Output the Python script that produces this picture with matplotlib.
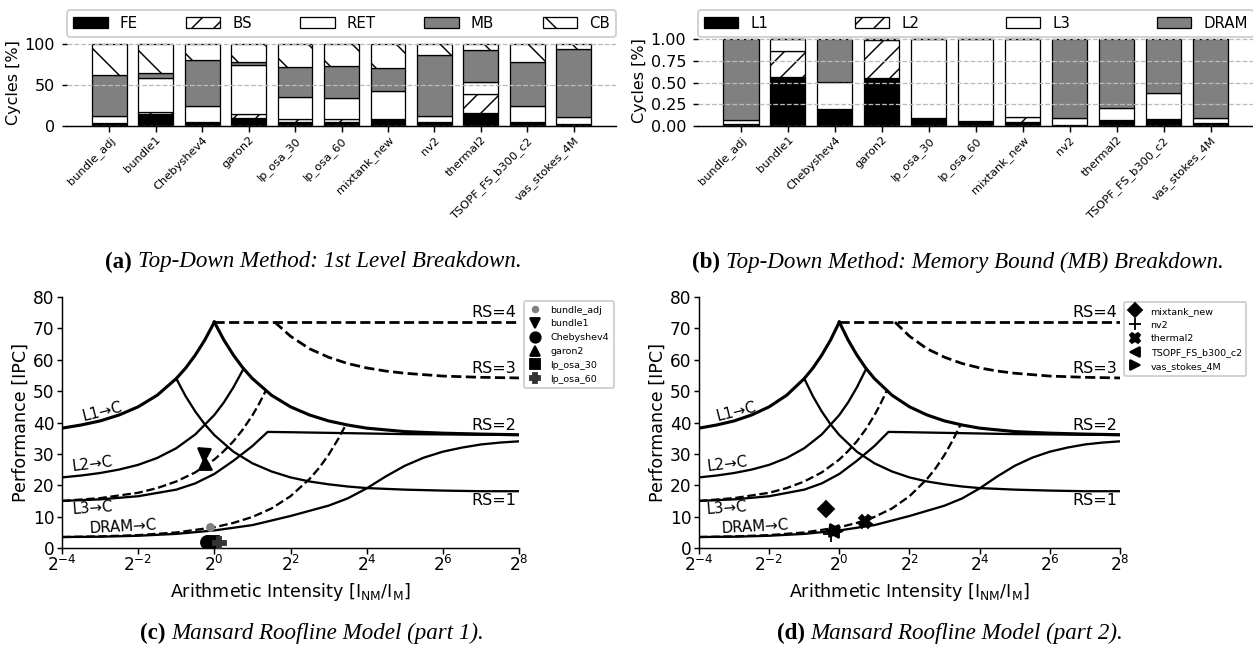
import numpy as np
import matplotlib
matplotlib.use('Agg')
import matplotlib.pyplot as plt
from matplotlib.ticker import NullLocator

W, H, DPI = 1253, 649, 132


def pt(v):
    """pixels -> points"""
    return v * 72.0 / DPI


def rect(l, t, r, b):
    return [l / W, 1 - b / H, (r - l) / W, (b - t) / H]


# ---------------- data ----------------
benchmarks = ['bundle_adj', 'bundle1', 'Chebyshev4', 'garon2', 'lp_osa_30', 'lp_osa_60',
              'mixtank_new', 'nv2', 'thermal2', 'TSOPF_FS_b300_c2', 'vas_stokes_4M']

# (a) Top-down 1st level breakdown [%]
fe  = [3.0, 14.0, 4.1, 9.8, 4.1, 4.0, 7.8, 4.1, 16.0, 4.1, 1.5]
bs  = [0.5, 2.4, 0.3, 4.5, 4.1, 3.8, 0.3, 0.3, 22.4, 0.3, 0.3]
ret = [8.8, 41.6, 19.6, 60.0, 27.3, 26.5, 34.4, 7.9, 14.6, 20.1, 9.0]
mb  = [49.7, 6.0, 56.4, 3.3, 36.0, 38.7, 28.5, 74.2, 39.6, 53.9, 82.7]
cb  = [38.0, 36.0, 19.6, 22.4, 28.5, 27.0, 29.0, 13.5, 7.4, 21.6, 6.5]
top_labels = ['FE', 'BS', 'RET', 'MB', 'CB']

# (b) Memory bound breakdown [fraction]
l1   = [0.020, 0.567, 0.190, 0.548, 0.085, 0.054, 0.045, 0.005, 0.066, 0.078, 0.035]
l2   = [0.000, 0.298, 0.000, 0.447, 0.000, 0.000, 0.059, 0.000, 0.000, 0.000, 0.000]
l3   = [0.046, 0.135, 0.320, 0.005, 0.913, 0.944, 0.894, 0.080, 0.144, 0.302, 0.050]
dram = [0.934, 0.000, 0.490, 0.000, 0.002, 0.002, 0.002, 0.915, 0.790, 0.620, 0.915]
mem_labels = ['L1', 'L2', 'L3', 'DRAM']

# (c)/(d) Mansard roofline curves: x given as log2(AI), y in IPC
l1_exp = [-4, -3.5, -3, -2.5, -2, -1.5, -1, -0.75, -0.5, -0.25, 0]
l1_ipc = [38.2, 39.2, 40.5, 42.4, 45.0, 48.7, 54.0, 57.4, 61.5, 66.3, 72.0]

rs2_exp = [0, 0.25, 0.5, 0.75, 1, 1.5, 2, 2.5, 3, 3.5, 4, 5, 6, 7, 8]
rs2_ipc = [72.0, 66.3, 61.5, 57.4, 54.0, 48.7, 45.0, 42.4, 40.5, 39.2, 38.2, 37.1, 36.6, 36.3, 36.1]

rs1_exp = [-1, -0.75, -0.5, -0.25, 0, 0.5, 1, 1.5, 2, 2.5, 3, 3.5, 4, 5, 6, 7, 8]
rs1_ipc = [54.0, 48.3, 43.5, 39.4, 36.0, 30.7, 27.0, 24.4, 22.5, 21.2, 20.3, 19.6, 19.1, 18.6, 18.3, 18.1, 18.1]

l2_exp = [-4, -3.5, -3, -2.5, -2, -1.5, -1, -0.5, 0, 0.25, 0.5, 0.77]
l2_ipc = [22.5, 23.1, 23.9, 25.0, 26.5, 28.7, 31.8, 36.2, 42.4, 46.4, 51.2, 57.2]

l3d_exp = [-4, -3, -2, -1.5, -1, -0.5, 0, 0.25, 0.5, 0.75, 1, 1.15, 1.35]
l3d_ipc = [15.0, 15.9, 17.6, 19.1, 21.2, 24.1, 28.2, 30.9, 34.0, 37.8, 42.3, 45.4, 50.1]

l3s_exp = [-4, -3, -2, -1, -0.5, 0, 0.5, 1, 1.4, 2, 3, 4, 5, 6, 7, 8]
l3s_ipc = [15.0, 15.5, 16.5, 18.6, 20.6, 23.6, 27.8, 32.5, 37.0, 36.9, 36.7, 36.5, 36.3, 36.2, 36.1, 36.0]

dramd_exp = [-4, -3, -2, -1, 0, 0.5, 1, 1.5, 2, 2.5, 2.75, 3, 3.25, 3.45]
dramd_ipc = [3.5, 3.7, 4.1, 4.95, 6.6, 8.0, 9.9, 12.6, 16.5, 22.0, 25.5, 29.7, 34.7, 39.2]

drams_exp = [-4, -3, -2, -1, 0, 1, 2, 3, 3.5, 4, 4.5, 5, 5.5, 6, 6.5, 7, 7.5, 8]
drams_ipc = [3.5, 3.6, 3.9, 4.5, 5.6, 7.3, 10.2, 13.5, 15.8, 19.0, 22.8, 26.2, 28.8, 30.7, 32.0, 33.0, 33.6, 34.0]

rs4_exp = [0, 8]
rs4_ipc = [72.0, 72.0]

rs3_exp = [1.585, 2, 2.5, 3, 3.5, 4, 4.5, 5, 6, 7, 8]
rs3_ipc = [72.0, 67.5, 63.5, 60.8, 58.8, 57.4, 56.4, 55.7, 54.8, 54.4, 54.2]

# application points (AI, IPC)
c_names = ['bundle_adj', 'bundle1', 'Chebyshev4', 'garon2', 'lp_osa_30', 'lp_osa_60']
c_ai    = [0.93, 0.83, 0.87, 0.85, 0.97, 1.09]
c_ipc   = [6.8, 29.5, 2.0, 27.2, 1.8, 1.7]
d_names = ['mixtank_new', 'nv2', 'thermal2', 'TSOPF_FS_b300_c2', 'vas_stokes_4M']
d_ai    = [0.77, 0.85, 1.66, 0.87, 0.93]
d_ipc   = [12.4, 4.5, 8.7, 5.3, 5.5]

captions = [('(a)', 'Top-Down Method: 1st Level Breakdown.'),
            ('(b)', 'Top-Down Method: Memory Bound (MB) Breakdown.'),
            ('(c)', 'Mansard Roofline Model (part 1).'),
            ('(d)', 'Mansard Roofline Model (part 2).')]

# ---------------- figure ----------------
plt.rcParams['font.family'] = ['DejaVu Sans']
plt.rcParams['hatch.linewidth'] = 0.8
fig = plt.figure(figsize=(W / DPI, H / DPI), dpi=DPI)

GRAY = '#808080'


def stacked(ax, series, labels, colors, hatches, ymax, yticks, yfmt, leg_y):
    x = np.arange(len(benchmarks))
    bottom = np.zeros(len(benchmarks))
    handles = []
    for vals, lab, col, hat in zip(series, labels, colors, hatches):
        v = np.array(vals)
        h = ax.bar(x, v, 0.75, bottom=bottom, color=col, edgecolor='black',
                   hatch=hat, linewidth=0.7, label=lab, zorder=2)
        handles.append(h)
        bottom = bottom + v
    ax.set_ylim(0, ymax)
    ax.set_yticks(yticks)
    ax.set_yticklabels([yfmt.format(t) for t in yticks])
    ax.set_xticks(x)
    ax.set_xticklabels(benchmarks, rotation=45, ha='right', rotation_mode='anchor',
                       fontsize=pt(11.5))
    ax.tick_params(axis='y', labelsize=pt(16), length=3)
    ax.tick_params(axis='x', length=3, pad=2)
    for s in ('left', 'top', 'right'):
        ax.spines[s].set_visible(False)
    ax.grid(axis='y', color='#bbbbbb', linestyle='--', linewidth=0.7, zorder=5)
    ax.set_axisbelow(False)
    ax.set_ylabel('Cycles [%]', fontsize=pt(16), labelpad=2)
    ax.legend(handles, labels, ncol=len(labels), mode='expand', loc='lower left',
              bbox_to_anchor=(0, leg_y, 1, 0.1), borderaxespad=0,
              fontsize=pt(15), handlelength=2.3, handleheight=0.75,
              fancybox=True, framealpha=1, edgecolor='#d0d0d0')


ax_a = fig.add_axes(rect(67, 40, 616, 125.7))
stacked(ax_a, [fe, bs, ret, mb, cb], top_labels,
        ['black', 'white', 'white', GRAY, 'white'],
        [None, '//', None, None, '\\'], 105, [0, 50, 100], '{:g}',
        (125.7 - 36.7) / (125.7 - 40))

ax_b = fig.add_axes(rect(698, 35, 1253.7, 125.7))
stacked(ax_b, [l1, l2, l3, dram], mem_labels,
        ['black', 'white', 'white', GRAY],
        [None, '//', None, None], 1.05, [0, 0.25, 0.5, 0.75, 1.0], '{:.2f}',
        (125.7 - 37) / (125.7 - 35))


def roofline(ax, names, ai, ipc, markers, mcolors, msizes, leg_rect):
    def line(e, y, ls='-', lw=1.25):
        ax.plot(np.power(2.0, e), y, color='black', linestyle=ls, linewidth=lw, zorder=2)
    line(l1_exp, l1_ipc, lw=1.7)
    line(rs2_exp, rs2_ipc, lw=1.7)
    line(rs1_exp, rs1_ipc)
    line(l2_exp, l2_ipc)
    line(l3s_exp, l3s_ipc)
    line(drams_exp, drams_ipc)
    line(l3d_exp, l3d_ipc, '--')
    line(dramd_exp, dramd_ipc, '--')
    line(rs4_exp, rs4_ipc, '--', 1.5)
    line(rs3_exp, rs3_ipc, '--', 1.5)

    ax.set_xscale('log', base=2)
    ax.set_xlim(2.0 ** -4, 2.0 ** 8)
    ax.set_ylim(0, 80)
    ax.set_xticks([2.0 ** k for k in (-4, -2, 0, 2, 4, 6, 8)])
    ax.xaxis.set_minor_locator(NullLocator())
    ax.set_yticks(range(0, 81, 10))
    ax.tick_params(labelsize=pt(17), length=3, pad=1)
    for s in ('top', 'right'):
        ax.spines[s].set_visible(False)
    ax.set_xlabel(r'Arithmetic Intensity [I$_{\mathregular{NM}}$/I$_{\mathregular{M}}$]',
                  fontsize=pt(17.5), labelpad=3)
    ax.set_ylabel('Performance [IPC]', fontsize=pt(17.5), labelpad=2)

    fs = pt(15)
    ax.text(2.0 ** -2.95, 43.5, 'L1→C', fontsize=fs, rotation=14, ha='center', va='center')
    ax.text(2.0 ** -3.2, 26.8, 'L2→C', fontsize=fs, rotation=7, ha='center', va='center')
    ax.text(2.0 ** -3.2, 12.6, 'L3→C', fontsize=fs, rotation=4, ha='center', va='center')
    ax.text(2.0 ** -2.4, 6.8, 'DRAM→C', fontsize=fs, rotation=3, ha='center', va='center')
    fr = pt(16)
    for yv, txt in ((75.2, 'RS=4'), (57.3, 'RS=3'), (38.9, 'RS=2'), (15.0, 'RS=1')):
        ax.text(2.0 ** 7.93, yv, txt, fontsize=fr, ha='right', va='center')

    for n, x, y, m, c, s in zip(names, ai, ipc, markers, mcolors, msizes):
        ax.plot([x], [y], linestyle='none', marker=m, color=c, markersize=s,
                markeredgecolor=c, label=n, zorder=4)
    l, t, r, b = leg_rect
    ax.legend(loc='upper left', bbox_to_anchor=(l / W, 1 - t / H),
              bbox_transform=fig.transFigure, borderaxespad=0, fontsize=pt(9.5),
              handlelength=1.3, handletextpad=1.0, labelspacing=0.5,
              borderpad=0.5, fancybox=True, framealpha=1, edgecolor='#d0d0d0',
              markerscale=0.8)


ax_c = fig.add_axes(rect(62, 297, 519, 548))
roofline(ax_c, c_names, c_ai, c_ipc, ['o', 'v', 'o', '^', 's', 'P'],
         [GRAY, 'black', 'black', 'black', 'black', '#333333'],
         [pt(7), pt(13), pt(13), pt(13), pt(12), pt(13)], (524, 301, 617, 392))

ax_d = fig.add_axes(rect(699, 297, 1120, 548))
roofline(ax_d, d_names, d_ai, d_ipc, ['D', '+', 'X', '<', '>'],
         ['black'] * 5, [pt(12), pt(16), pt(13), pt(13), pt(13)], (1124, 302, 1251, 377))

# captions: bold label + italic text, centred as a group
cap_centres = [(313, 262), (958, 262), (312, 633), (950, 633)]
renderer = fig.canvas.get_renderer()
CAP_FS = pt(23)
GAP = 6
for (lab, txt), (xc, yc) in zip(captions, cap_centres):
    t1 = fig.text(0, 1 - yc / H, lab, fontsize=CAP_FS, fontweight='bold',
                  family='Liberation Serif', ha='left', va='center')
    t2 = fig.text(0, 1 - yc / H, txt, fontsize=CAP_FS, style='italic',
                  family='Liberation Serif', ha='left', va='center')
    w1 = t1.get_window_extent(renderer).width
    w2 = t2.get_window_extent(renderer).width
    x0 = xc - (w1 + GAP + w2) / 2
    t1.set_x(x0 / W)
    t2.set_x((x0 + w1 + GAP) / W)

fig.savefig('out.png', dpi=DPI)
